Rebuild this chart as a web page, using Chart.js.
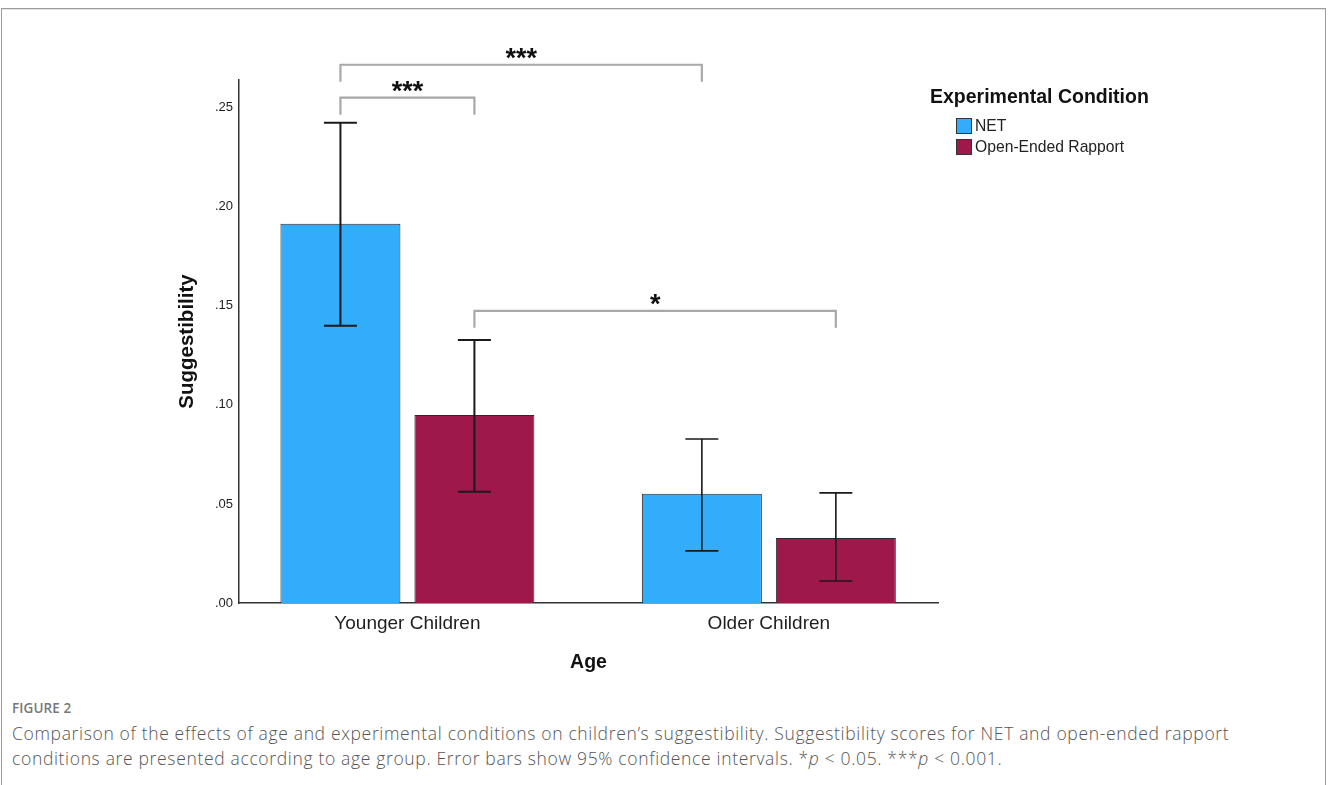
<!DOCTYPE html>
<html>
<head>
<meta charset="utf-8">
<script src="https://cdn.jsdelivr.net/npm/chart.js@4/dist/chart.umd.min.js"></script>
<style>
  html, body { margin: 0; padding: 0; background: #fff; }
  body { width: 1328px; height: 785px; position: relative; overflow: hidden; }
  .frame {
    position: absolute; left: 1px; top: 8px; width: 1323px; height: 800px;
    border: 1px solid #9c9c9c; border-bottom: none;
    box-shadow: inset 0 1px 0 #e4e4e4;
  }
  #chart { position: absolute; left: 0; top: 0; }
  .fig-label {
    position: absolute; left: 12px; top: 699px;
    font: 600 13.5px "Open Sans", sans-serif; color: #777; letter-spacing: 0.1px;
  }
  .caption {
    position: absolute; left: 12px; top: 721px; width: 1310px;
    font: 300 17.5px/24.5px "Open Sans", sans-serif; color: #555; letter-spacing: 0.66px;
  }
</style>
</head>
<body>
<div class="frame"></div>
<canvas id="chart" width="1328" height="690"></canvas>
<div class="fig-label">FIGURE 2</div>
<div class="caption">Comparison of the effects of age and experimental conditions on children’s suggestibility. Suggestibility scores for NET and open-ended rapport<br>conditions are presented according to age group. Error bars show 95% confidence intervals. *<i>p</i> &lt; 0.05. ***<i>p</i> &lt; 0.001.</div>

<script>
// ── DATOS ──────────────────────────────────────
const categories  = ['Younger Children', 'Older Children'];
const seriesNames = ['NET', 'Open-Ended Rapport'];

const netMeans  = [0.1914, 0.0551];
const netLow    = [0.1399, 0.0263];
const netHigh   = [0.2424, 0.0828];

const openMeans = [0.0949, 0.0328];
const openLow   = [0.0561, 0.0111];
const openHigh  = [0.1328, 0.0556];

const yTicks = [0, 0.05, 0.10, 0.15, 0.20, 0.25];
const yMax   = 0.264;

// comparaciones: [dataset, categoria] -> [dataset, categoria], nivel en el eje y
const brackets = [
  { from: [0, 0], to: [0, 1], level: 0.2717, label: '***' },
  { from: [0, 0], to: [1, 0], level: 0.2551, label: '***' },
  { from: [1, 0], to: [1, 1], level: 0.1475, label: '*' }
];

const errLow  = [netLow, openLow];
const errHigh = [netHigh, openHigh];

const FONT = '"Liberation Sans", Arial, sans-serif';

// ── PLUGIN: barras de error, corchetes y leyenda ──
const extras = {
  id: 'extras',
  afterDatasetsDraw(chart) {
    const ctx = chart.ctx;
    const y = chart.scales.y;

    // barras de error
    chart.data.datasets.forEach((ds, d) => {
      const meta = chart.getDatasetMeta(d);
      meta.data.forEach((bar, i) => {
        const yTop = y.getPixelForValue(errHigh[d][i]);
        const yBot = y.getPixelForValue(errLow[d][i]);
        const cap = 16.5;
        ctx.save();
        ctx.strokeStyle = '#1a1a1a';
        ctx.lineWidth = i === 0 ? 2 : 1.6;
        ctx.beginPath();
        ctx.moveTo(bar.x, yTop); ctx.lineTo(bar.x, yBot);
        ctx.moveTo(bar.x - cap, yTop); ctx.lineTo(bar.x + cap, yTop);
        ctx.moveTo(bar.x - cap, yBot); ctx.lineTo(bar.x + cap, yBot);
        ctx.stroke();
        ctx.restore();
      });
    });

    // corchetes de significancia
    brackets.forEach(b => {
      const x1 = chart.getDatasetMeta(b.from[0]).data[b.from[1]].x;
      const x2 = chart.getDatasetMeta(b.to[0]).data[b.to[1]].x;
      const yy = y.getPixelForValue(b.level);
      const drop = 17;
      ctx.save();
      ctx.strokeStyle = '#a8a8a8';
      ctx.lineWidth = 2.2;
      ctx.beginPath();
      ctx.moveTo(x1, yy + drop); ctx.lineTo(x1, yy);
      ctx.lineTo(x2, yy); ctx.lineTo(x2, yy + drop);
      ctx.stroke();
      ctx.fillStyle = '#111';
      ctx.font = 'bold 27px ' + FONT;
      ctx.textAlign = 'center';
      ctx.textBaseline = 'alphabetic';
      ctx.fillText(b.label, (x1 + x2) / 2, yy + 2.5);
      ctx.restore();
    });
  },
  afterDraw(chart) {
    // leyenda
    const ctx = chart.ctx;
    ctx.save();
    ctx.fillStyle = '#111';
    ctx.font = 'bold 19.5px ' + FONT;
    ctx.textAlign = 'left';
    ctx.textBaseline = 'middle';
    ctx.fillText('Experimental Condition', 930, 98);
    chart.data.datasets.forEach((ds, d) => {
      const top = 118 + d * 21;
      ctx.fillStyle = ds.backgroundColor;
      ctx.fillRect(956, top, 16, 16);
      ctx.strokeStyle = '#333';
      ctx.lineWidth = 1;
      ctx.strokeRect(956.5, top + 0.5, 15, 15);
      ctx.fillStyle = '#222';
      ctx.font = '15.7px ' + FONT;
      ctx.fillText(ds.label, 975, top + 9);
    });
    ctx.restore();
  }
};

// ── GRÁFICO ────────────────────────────────────
new Chart(document.getElementById('chart'), {
  type: 'bar',
  data: {
    labels: categories,
    datasets: [
      {
        label: seriesNames[0],
        data: netMeans,
        backgroundColor: '#31adfb',
        borderColor: '#2b2b2b',
        borderWidth: 1
      },
      {
        label: seriesNames[1],
        data: openMeans,
        backgroundColor: '#9e184b',
        borderColor: '#2b2b2b',
        borderWidth: 1
      }
    ]
  },
  options: {
    responsive: false,
    animation: false,
    devicePixelRatio: 1,
    layout: { padding: { left: 0, right: 390, top: 80, bottom: 0 } },
    categoryPercentage: 0.7414,
    barPercentage: 0.8955,
    plugins: {
      legend: { display: false },
      tooltip: { enabled: false }
    },
    scales: {
      x: {
        grid: { display: false, drawTicks: false },
        border: { display: true, color: '#333', width: 1.5 },
        // grupos algo más abiertos hacia los bordes que el reparto por defecto
        afterBuildTicks: s => { s._startValue = -0.466; s._valueRange = 1.934; },
        ticks: { color: '#1e1e1e', font: { family: FONT, size: 19 }, padding: 9 },
        title: {
          display: true, text: 'Age', color: '#111',
          font: { family: FONT, size: 19.5, weight: 'bold' },
          padding: { top: 0, bottom: 16 }
        },
        afterFit: s => { s.height = 87; }
      },
      y: {
        min: 0,
        max: yMax,
        grid: { display: false, drawTicks: false },
        border: { display: true, color: '#333', width: 1.5 },
        afterBuildTicks: s => { s.ticks = yTicks.map(v => ({ value: v })); },
        ticks: {
          color: '#1e1e1e',
          font: { family: FONT, size: 13 },
          padding: 6,
          callback: v => v.toFixed(2).replace(/^0/, '')
        },
        title: {
          display: true, text: 'Suggestibility', color: '#111',
          font: { family: FONT, size: 20.5, weight: 'bold' },
          padding: { top: 175, bottom: 0 }
        },
        afterFit: s => { s.width = 239; }
      }
    }
  },
  plugins: [extras]
});
</script>
</body>
</html>
